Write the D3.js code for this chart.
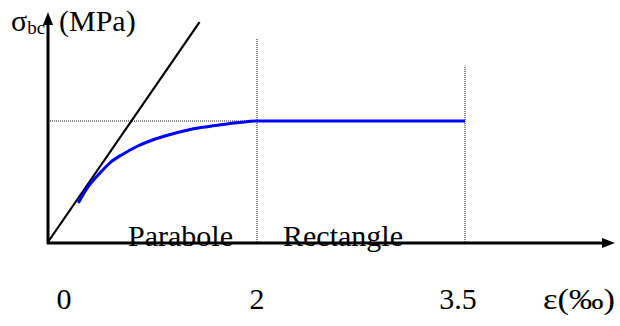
<!DOCTYPE html>
<html>
<head>
<meta charset="utf-8">
<script src="https://cdn.jsdelivr.net/npm/d3@7"></script>
<style>
  body { margin: 0; background: #fff; }
  svg { display: block; }
  text { font-family: "Liberation Serif", "Times New Roman", serif; fill: #000; }
</style>
</head>
<body>
<svg id="chart"></svg>
<script>
const width = 620
const height = 326

// strain (‰) and stress (MPa)
const fbu = 14.2
const strainTicks = [0, 2, 3.5]
const tickLabels = ["0", "2", "3.5"]
const curveStrain = [0.29, 0.38, 0.48, 0.59, 0.72, 0.85, 1.0, 1.17, 1.32, 1.48, 1.65, 1.81, 2.0, 3.5]
const curveStress = [4.58, 6.4, 7.86, 9.27, 10.33, 11.21, 11.97, 12.62, 13.09, 13.46, 13.75, 13.99, 14.2, 14.2]
const elasticStrain = [0, 1.45]
const elasticStress = [0, 25.8]
const guideTop = [23.9, 20.7]   // height of the dotted verticals at 2 and 3.5
const zoneLabels = ["Parabole", "Rectangle"]

// schematic, not to scale: the 2 -> 3.5 segment is stretched
const x = d3.scaleLinear()
            .domain(strainTicks)
            .range([48, 257, 465])
const y = d3.scaleLinear()
            .domain([0, fbu])
            .range([242, 121])

const svg = d3.select("#chart")
              .attr("width", width)
              .attr("height", height)

const line = d3.line()
               .x(d => x(d[0]))
               .y(d => y(d[1]))

// dotted guides
const guides = svg.append("g")
                  .attr("stroke", "#111")
                  .attr("stroke-width", 1)
                  .attr("stroke-dasharray", "1,1")
                  .attr("fill", "none")

guides.append("path")
      .attr("d", line([[0, fbu], [2, fbu]]))

guides.selectAll("path.v")
      .data(strainTicks.slice(1))
      .join("path")
        .attr("class", "v")
        .attr("d", (d, i) => line([[d, 0], [d, guideTop[i]]]))

// elastic tangent
svg.append("path")
   .attr("d", line(d3.zip(elasticStrain, elasticStress)))
   .attr("stroke", "#000")
   .attr("stroke-width", 2.2)
   .attr("fill", "none")

// parabola - rectangle curve
svg.append("path")
   .attr("d", d3.line().curve(d3.curveMonotoneX)
                .x(d => x(d[0])).y(d => y(d[1]))(d3.zip(curveStrain, curveStress)))
   .attr("stroke", "#0000ff")
   .attr("stroke-width", 3)
   .attr("fill", "none")

// axes with arrows
const axes = svg.append("g")
const x0 = x(0), y0 = y(0) + 1
axes.append("line")
    .attr("x1", x0).attr("y1", y0 + 1)
    .attr("x2", x0).attr("y2", 20)
    .attr("stroke", "#000").attr("stroke-width", 3)
axes.append("path")
    .attr("d", `M${x0},12 L${x0 - 5},25 L${x0 + 5},25 Z`)
axes.append("line")
    .attr("x1", x0 - 1).attr("y1", y0)
    .attr("x2", 606).attr("y2", y0)
    .attr("stroke", "#000").attr("stroke-width", 3)
axes.append("path")
    .attr("d", `M615,${y0} L602,${y0 - 5} L602,${y0 + 5} Z`)

// zone labels
svg.append("text")
   .attr("x", x(2) - 24).attr("y", 246)
   .attr("text-anchor", "end")
   .attr("font-size", 30)
   .text(zoneLabels[0])
svg.append("text")
   .attr("x", x(2) + 26).attr("y", 246)
   .attr("font-size", 30)
   .text(zoneLabels[1])

// tick labels under the axis
const labelShift = [16, 0, -7]
svg.append("g")
   .selectAll("text")
   .data(strainTicks)
   .join("text")
     .attr("x", (d, i) => x(d) + labelShift[i])
     .attr("y", 309)
     .attr("text-anchor", "middle")
     .attr("font-size", 30)
     .text((d, i) => tickLabels[i])

svg.append("text")
   .attr("x", 543).attr("y", 309)
   .attr("font-size", 30)
   .attr("textLength", 72)
   .attr("lengthAdjust", "spacingAndGlyphs")
   .text("ε(‰)")

// y axis title
const title = svg.append("text")
                 .attr("x", 11).attr("y", 31)
                 .attr("font-size", 30)
title.append("tspan").text("σ")
title.append("tspan").attr("font-size", 19).attr("dy", 3).text("bc")
title.append("tspan").attr("x", 59).attr("dy", -3).text("(MPa)")
</script>
</body>
</html>
